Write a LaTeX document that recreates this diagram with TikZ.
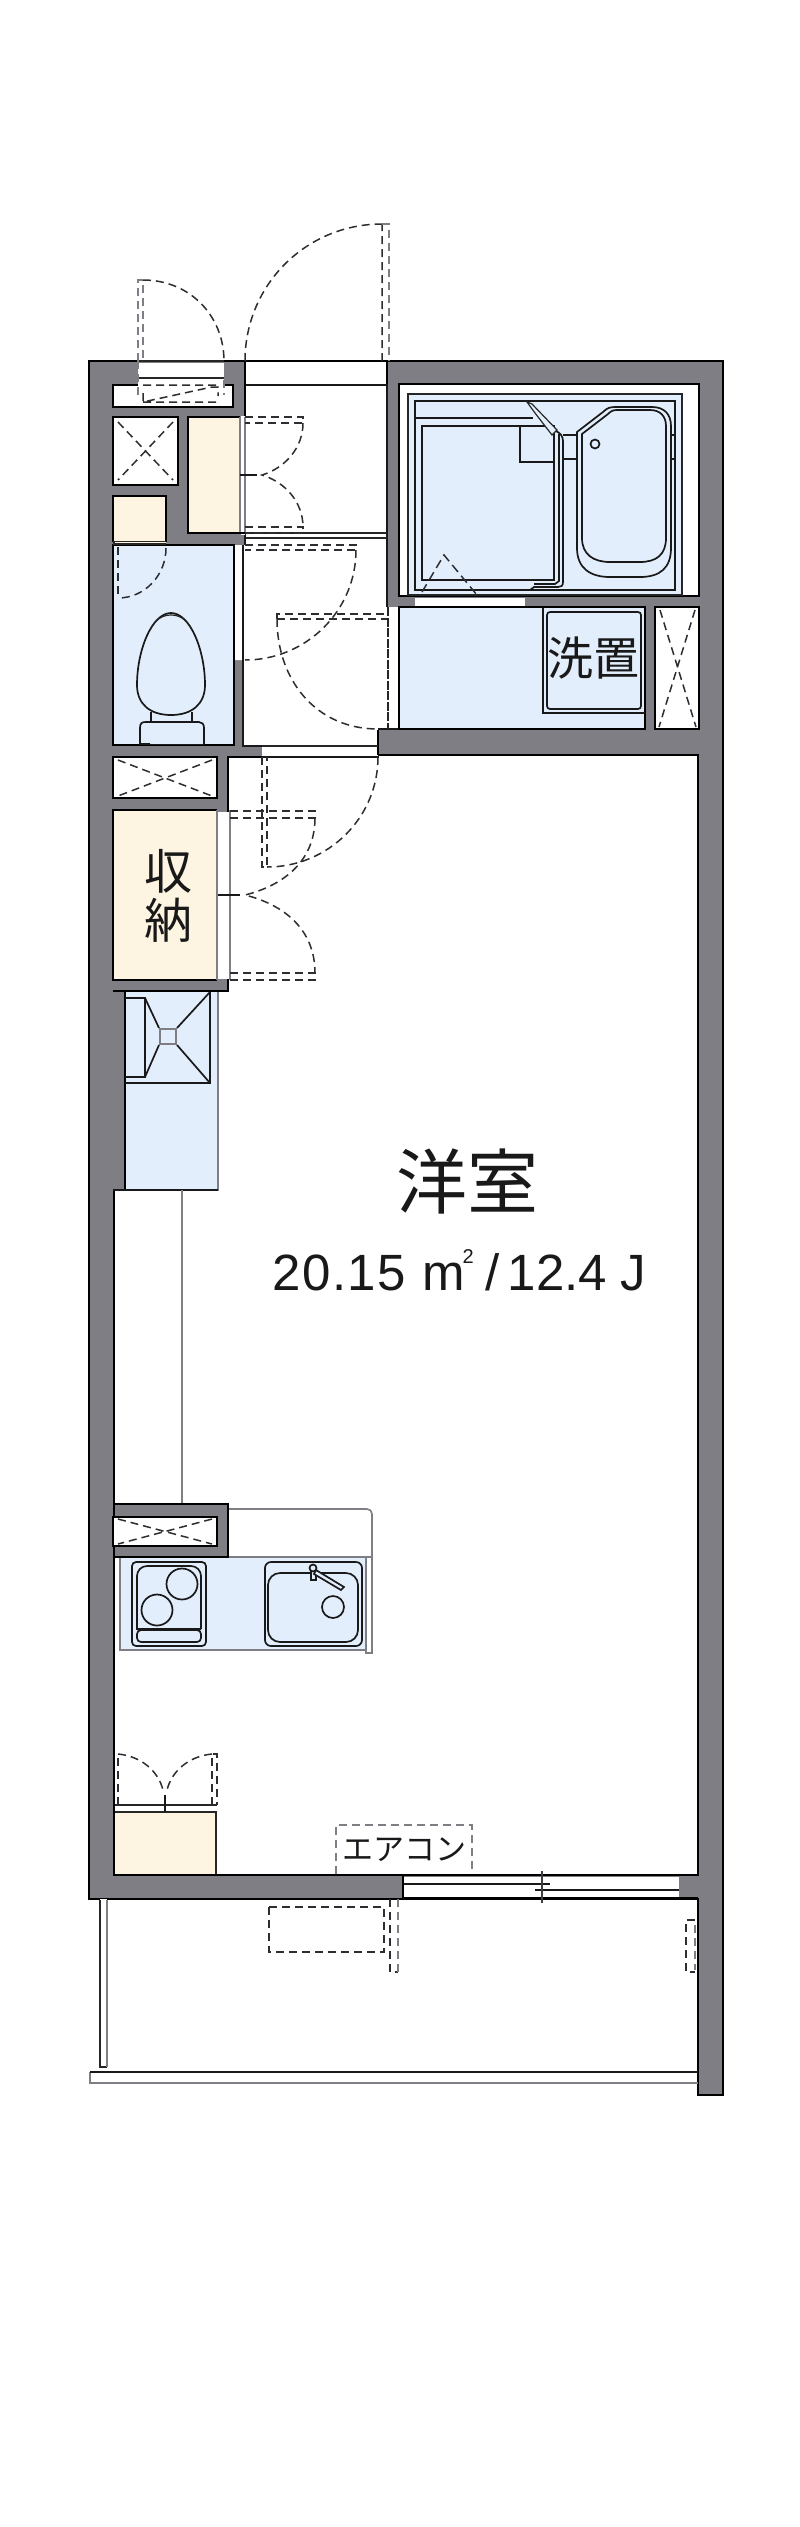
\documentclass[tikz,border=0pt]{standalone}
\usepackage{fontspec}
\setmainfont{Liberation Sans}
\newfontfamily\jp{Noto Sans CJK JP}
\newfontfamily\lsp[LetterSpace=3]{Liberation Sans}
\definecolor{wallg}{HTML}{7F7E85}
\definecolor{roomb}{HTML}{E3EEFC}
\definecolor{roomc}{HTML}{FEF4E2}
\definecolor{dashc}{HTML}{2E2E32}
\tikzset{
 wl/.style={draw=black,line width=2.8pt},
 md/.style={draw=black!90,line width=1.7pt},
 th/.style={draw=black!85,line width=1.2pt},
 gl/.style={draw=wallg,line width=1.6pt},
 ds/.style={draw=dashc,line width=1.5pt,dash pattern=on 8pt off 5pt},
 dg/.style={draw=wallg,line width=1.8pt,dash pattern=on 8pt off 5pt},
 lbl/.style={inner sep=0pt,text=black!90},
}
\begin{document}
\begin{tikzpicture}[x=1pt,y=-1pt,line join=miter]
\useasboundingbox[fill=white] (0,0) rectangle (800,2527);
% ---------- outer wall mass
\filldraw[fill=wallg,wl] (89,361) -- (723,361) -- (723,2095) -- (698,2095) -- (698,1899) -- (89,1899) -- cycle;
% ---------- main room
\filldraw[fill=white,wl] (228,991) -- (125,991) -- (125,1190) -- (114,1190) -- (114,1504) -- (228,1504) -- (228,1557) -- (114,1557) -- (114,1875) -- (698,1875) -- (698,755) -- (378,755) -- (378,757) -- (228,757) -- cycle;
% ---------- entry hall
\fill[white] (245,361) -- (387,361) -- (387,607) -- (399,607) -- (399,729) -- (378,729) -- (378,757) -- (262,757) -- (262,746) -- (243,746) -- (243,660) -- (234,660) -- (234,545) -- (245,545) -- cycle;
\draw[wl] (387,361) -- (387,384);
\draw[wl] (245,361) -- (387,361);
\draw[md] (387,384) -- (387,607);
\draw[md] (245,385) -- (387,385);
\draw[th] (245,533) -- (387,533) (245,538) -- (387,538);
\draw[wl] (245,361) -- (245,417);
\draw[md] (245,533) -- (245,545);
\draw[md] (243,545) -- (243,746) -- (262,746);
\draw[wl] (378,730) -- (378,755);
\draw[md] (378,729) -- (399,729);
\draw[th,dash pattern=on 9pt off 1.5pt] (388,607) -- (388,729);
\draw[th] (262,746) -- (378,746);
\draw[md] (262,757) -- (378,757);
\fill[wallg] (262,747) rectangle (230,756);
% ---------- bath
\filldraw[fill=white,wl] (399,384) rectangle (699,596);
\filldraw[fill=roomb,th] (408,394) rectangle (682,595);
\draw[md] (415,401) rectangle (675,590);
\draw[md] (415,418) -- (533,418);
\draw[md] (422,426) rectangle (554,580);
\draw[md] (520,426) -- (520,462) -- (554,462);
% partition
\filldraw[fill=roomb,th] (527,402) -- (532,404) -- (557,430) -- (552,435) -- (535,413) -- cycle;
\draw[md] (554,434) -- (554,580);
\draw[md] (556,431) .. controls (560,433) and (563,436) .. (563,441) -- (563,582) .. controls (563,586) and (561,587) .. (558,587) -- (534,587) -- (530,590);
\draw[md] (559,434) -- (559,581) -- (555,584) -- (534,584);
\draw[md] (563,435) -- (578,435) (563,459) -- (578,459);
\draw[md] (669,435) -- (675,435) (669,459) -- (675,459);
% tub
\filldraw[fill=roomb,md] (577,432) -- (603,412) .. controls (607,408) and (610,407) .. (615,407) -- (652,407) .. controls (664,407) and (671,414) .. (671,426) -- (671,548) .. controls (671,568) and (660,577) .. (640,577) -- (610,577) .. controls (590,577) and (577,568) .. (577,548) -- cycle;
\filldraw[fill=roomb,md] (582,434) -- (608,414) .. controls (611,411) and (613,410) .. (617,410) -- (650,410) .. controls (660,410) and (666,416) .. (666,426) -- (666,538) .. controls (666,555) and (656,562) .. (640,562) -- (610,562) .. controls (594,562) and (582,555) .. (582,538) -- cycle;
\draw[md] (595,444) circle[radius=4.5pt];
\draw[ds,dash pattern=on 9pt off 5pt] (422,592) -- (444,555) -- (477,595);
% door between bath and wash
\fill[white] (415,597.5) rectangle (525,606);
% ---------- wash room
\filldraw[fill=roomb,wl] (399,607) rectangle (645,729);
\draw[md] (543,608) -- (543,713) -- (645,713);
\draw[md,rounded corners=3pt] (547,612) rectangle (641,709);
\node[lbl] (wash) at (593,658) {\jp\fontsize{46}{46}\selectfont 洗置};
% shaft
\filldraw[fill=white,wl] (655,607) rectangle (699,729);
\draw[ds] (660,610) -- (696,727) (695,610) -- (659,727);
% ---------- niche at entrance
\filldraw[fill=white,wl] (113,385) rectangle (233,407);
\fill[white] (138,362.5) rectangle (224,386);
\draw[th] (138,378) -- (224,378);
\draw[th] (138,361) -- (224,361);
\draw[ds] (143,385) -- (218,385) (143,402) -- (218,402) (143,393) -- (143,402) -- (212,387) -- (218,387) -- (218,396);
\draw[dg] (138,361) -- (138,395) (224,380) -- (224,395);
% ---------- pipe space top-left
\filldraw[fill=white,wl] (113,417) rectangle (178,485);
\draw[ds] (118,422) -- (173,480) (173,422) -- (118,480);
% small cream
\filldraw[fill=roomc,wl] (113,542) -- (113,496) -- (166,496) -- (166,542);
\draw[th] (113,542) -- (166,542);
% closet
\filldraw[fill=roomc,wl] (240,417) -- (188,417) -- (188,533) -- (240,533);
\fill[white] (240.5,416) rectangle (245,535);
\draw[gl] (240,417) -- (240,533) (245,417) -- (245,533);
\draw[wl] (238,533) -- (246,533);
\draw[md] (240,475) -- (257,475);
\draw[ds] (245,417) -- (303,417) -- (303,423) -- (245,423);
\draw[ds] (303,423) .. controls (303,448) and (285,468) .. (262,475) .. controls (285,482) and (303,502) .. (303,527);
\draw[ds] (245,527) -- (303,527) -- (303,533) -- (245,533);
% ---------- toilet
\filldraw[fill=roomb,wl] (113,545) rectangle (234,745);
\fill[roomc] (115,541.5) rectangle (166,544);
\draw[th] (113,544) -- (166,544);
\draw[wl] (166,530) -- (166,541);
\draw[ds] (118,547) -- (118,598);
\draw[ds] (166,548) .. controls (166,575) and (145,598) .. (118,598);
% toilet bowl
\filldraw[fill=roomb,md] (150,744) -- (140,744) -- (140,728) .. controls (140,723) and (142,722) .. (146,722) -- (199,722) .. controls (202,722) and (204,724) .. (204,728) -- (204,744);
\draw[md] (151,712) -- (151,722) (192,712) -- (192,722);
\filldraw[fill=roomb,md] (171,613) .. controls (190,613) and (205,650) .. (205,685) .. controls (205,704) and (192,715) .. (171,715) .. controls (150,715) and (137,704) .. (137,685) .. controls (137,650) and (152,613) .. (171,613) -- cycle;
\draw[th] (150,630) .. controls (155,619) and (163,615) .. (171,615) .. controls (179,615) and (187,619) .. (192,630);
% ---------- shaft above storage
\filldraw[fill=white,wl] (113,757) rectangle (217,798);
\draw[ds] (118,760) -- (212,796) (212,760) -- (118,796);
% ---------- storage
\filldraw[fill=roomc,wl] (217,810) -- (113,810) -- (113,980) -- (217,980);
\fill[white] (218,811.5) rectangle (230,978.5);
\draw[gl] (217,810) -- (217,980) (230,810) -- (230,980);
\draw[md] (218,895) -- (240,895);
\node[lbl] (st1) at (168,871) {\jp\fontsize{48}{48}\selectfont 収};
\node[lbl] (st2) at (168,920) {\jp\fontsize{48}{48}\selectfont 納};
\draw[ds] (230,811) -- (315,811) -- (315,818) -- (230,818);
\draw[ds] (315,818) .. controls (315,860) and (285,885) .. (245,895) .. controls (285,905) and (315,930) .. (315,973);
\draw[ds] (230,973) -- (315,973) -- (315,980) -- (230,980);
% ---------- entry doors
\draw[ds] (245,545) -- (356,545) -- (356,550) -- (245,550);
\draw[ds] (356,550) .. controls (356,611) and (306,660) .. (245,660);
\draw[ds] (277,619) -- (277,614) -- (387,614) (277,619) -- (387,619);
\draw[ds] (277,619) .. controls (277,680) and (316,729) .. (378,729);
\draw[ds] (262,757) -- (262,867) -- (267,867) -- (267,757);
\draw[ds] (378,757) .. controls (378,818) and (328,867) .. (267,867);
% ---------- exterior doors
\draw[dg] (138,361) -- (138,280) -- (143,280) -- (143,361);
\draw[ds] (143,280) .. controls (190,280) and (224,316) .. (224,361);
\draw[ds] (382,361) -- (382,224) (245,361) .. controls (245,285) and (306,224) .. (382,224);
\draw[dg] (382,224) -- (389,224) -- (389,361);
% ---------- shoe box / hood cabinet
\filldraw[fill=roomb,gl] (125,991) rectangle (218,1190);
\draw[wl] (125,991) -- (125,1190);
\draw[wl] (113,991) -- (228,991) -- (228,980);
\draw[md] (113,1190) -- (218,1190);
\draw[md] (125,1083) -- (210,1083) -- (210,992);
\draw[md] (125,998) -- (145,998) -- (145,1077) -- (125,1077);
\draw[md] (145,998) -- (159,1028) (145,1077) -- (159,1045) (210,992) -- (177,1028) (210,1083) -- (177,1045);
\draw[gl,draw=wallg,line width=2.5pt] (160,1029) rectangle (176,1044);
\draw[gl] (182,1190) -- (182,1504);
% ---------- kitchen
\filldraw[fill=white,gl] (228,1509) -- (367,1509) .. controls (370,1509) and (372,1511) .. (372,1514) -- (372,1653) -- (366,1653) -- (366,1557) -- (228,1557) -- cycle;
\fill[white] (115,1558) rectangle (120,1650);
\filldraw[fill=roomb,draw=none] (120,1558) rectangle (365,1650);
\draw[gl] (114,1557) -- (372,1557);
\draw[gl] (120,1557) -- (120,1650) -- (366,1650);
\draw[gl] (366,1557) -- (366,1653) -- (372,1653) -- (372,1557);
\filldraw[fill=wallg,wl] (114,1504) rectangle (228,1557);
\filldraw[fill=white,wl] (113,1517) rectangle (217,1546);
\draw[ds] (118,1519) -- (212,1544) (212,1519) -- (118,1544);
\draw[wl] (114,1557) -- (114,1875);
% stove
\draw[md,rounded corners=4pt] (132,1562) rectangle (206,1646);
\draw[md,rounded corners=10pt] (137,1629) -- (137,1566) -- (201,1566) -- (201,1629);
\draw[md] (136,1629) -- (201,1629);
\draw[md,rounded corners=4pt] (137,1630) rectangle (201,1642);
\draw[md] (182,1584) circle[radius=15.5pt];
\draw[md] (157,1610) circle[radius=15.5pt];
% sink
\draw[md,rounded corners=6pt] (265,1562) rectangle (362,1646);
\draw[md,rounded corners=12pt] (268,1573) rectangle (358,1642);
\draw[md] (333,1607) circle[radius=11pt];
\filldraw[fill=roomb,md] (311,1570) -- (311,1580) -- (316,1580) -- (316,1570);
\filldraw[fill=roomb,md] (316,1570) -- (344,1587) -- (341,1590) -- (314,1574) -- cycle;
\filldraw[fill=roomb,md] (313,1568) circle[radius=3.5pt];
% ---------- cupboard at bottom-left
\filldraw[fill=roomc,th] (114,1812) rectangle (216,1875);
\draw[th] (114,1805) -- (217,1805) (114,1812) -- (217,1812);
\draw[wl] (114,1790) -- (114,1875);
\draw[md] (165,1795) -- (165,1812);
\draw[ds] (118,1805) -- (118,1754) (212,1805) -- (212,1754) -- (217,1754) -- (217,1805);
\draw[ds] (118,1754) .. controls (140,1756) and (158,1770) .. (163,1790);
\draw[ds] (212,1754) .. controls (190,1756) and (172,1770) .. (167,1790);
\draw[wl] (113,1875) -- (400,1875);
% ---------- air conditioner
\draw[dg] (336,1874) -- (336,1825) -- (472,1825) -- (472,1874);
\node[lbl] (ac) at (404,1850) {\jp\fontsize{31}{31}\selectfont エアコン};
% ---------- window
\fill[white] (403,1876.5) rectangle (679,1897.5);
\fill[wallg] (398,1877) rectangle (403,1897);
\draw[wl] (403,1875) -- (698,1875);
\draw[wl] (403,1898) -- (698,1898);
\draw[md] (403,1884) -- (550,1884) (535,1890) -- (679,1890);
\draw[wallg!50!black,line width=2.4pt] (542,1871) -- (542,1903);
\draw[wl] (403,1899) -- (403,1875);
% ---------- balcony
\draw[ds] (269,1907) rectangle (384,1952);
\draw[ds] (390,1899) -- (390,1972) -- (398,1972);
\draw[dg] (398,1972) -- (398,1899);
\draw[ds] (695,1920) -- (686,1920) -- (686,1972) -- (695,1972);
\draw[dg] (695,1925) -- (695,1970);
\filldraw[fill=white,draw=none] (100,1899) rectangle (107,2067);
\draw[th] (100,1900) -- (100,2067) -- (107,2067);
\draw[gl] (107,2067) -- (107,1900);
\draw[gl] (90,2072) -- (90,2083) -- (698,2083);
\draw[md] (90,2072) -- (698,2072);
% ---------- room labels
\node[lbl] (room) at (467,1181) {\jp\fontsize{71}{71}\selectfont 洋室};
\node[lbl,anchor=base] (area) at (459,1290) {\fontsize{51}{51}\selectfont{\lsp 20.15}\kern16pt m\kern-2pt\raisebox{27pt}{\fontsize{20}{20}\selectfont 2}\kern12pt /\kern8pt 12.4\kern13pt J};
\end{tikzpicture}
\end{document}
